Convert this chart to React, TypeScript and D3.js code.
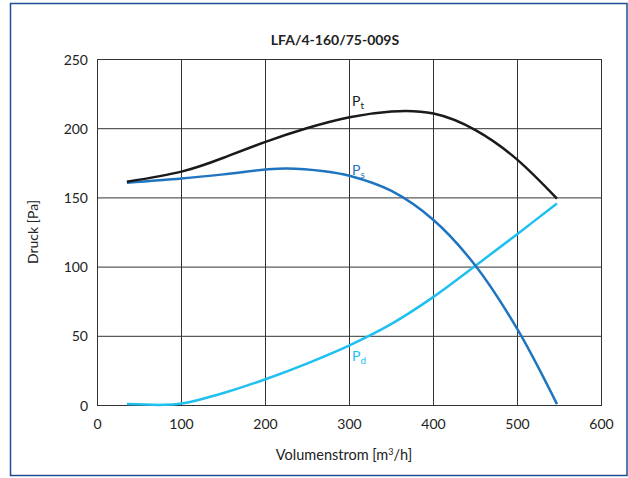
import React from "react";
import * as d3 from "d3";

const xTicks = [0, 100, 200, 300, 400, 500, 600];
const yTicks = [0, 50, 100, 150, 200, 250];

const flowPt = [35, 100, 150, 200, 250, 300, 350, 400, 450, 500, 547];
const valuesPt = [161.7, 169, 179, 190.5, 200.5, 208.3, 212.5, 211, 199, 177.5, 149.5];

const flowPs = [35, 100, 150, 200, 225, 270, 300, 350, 400, 450, 500, 547];
const valuesPs = [161, 164, 167, 170.5, 171.3, 169.3, 166, 155, 134, 101, 55, 1];

const flowPd = [35, 80, 100, 120, 150, 200, 250, 300, 350, 400, 450, 500, 547];
const valuesPd = [1, 0.5, 1.5, 4, 9, 19, 30.5, 43.5, 59, 78.5, 101, 124, 146];

const FONT = "Lato, 'Open Sans', sans-serif";

export default function App() {
  const W = 628, H = 478;
  const x = d3.scaleLinear().domain([0, 600]).range([97.5, 601.5]);
  const y = d3.scaleLinear().domain([0, 250]).range([405.5, 59.5]);
  const line = d3.line<[number, number]>().x(d => x(d[0])).y(d => y(d[1])).curve(d3.curveNatural);
  const lineCR = d3.line<[number, number]>().x(d => x(d[0])).y(d => y(d[1])).curve(d3.curveCatmullRom.alpha(0.5));
  const pt = flowPt.map((f, i) => [f, valuesPt[i]] as [number, number]);
  const ps = flowPs.map((f, i) => [f, valuesPs[i]] as [number, number]);
  const pd = flowPd.map((f, i) => [f, valuesPd[i]] as [number, number]);
  return (
    <svg width={W} height={H} style={{ position: "absolute", left: 0, top: 0, background: "#fff" }} fontFamily={FONT}>
      <rect x={10.5} y={3.5} width={616.5} height={472} fill="#fff" stroke="#1f4e96" strokeWidth={1.5} />
      <text x={335} y={45} textAnchor="middle" fontWeight="bold" fontSize={14} fill="#222">LFA/4-160/75-009S</text>
      {xTicks.map(t => (
        <line key={"gx" + t} x1={x(t)} x2={x(t)} y1={y(0)} y2={y(250)} stroke="#333" strokeWidth={1} />
      ))}
      {yTicks.map(t => (
        <line key={"gy" + t} x1={x(0)} x2={x(600)} y1={y(t)} y2={y(t)} stroke="#333" strokeWidth={1} />
      ))}
      <rect x={x(0)} y={y(250)} width={x(600) - x(0)} height={y(0) - y(250)} fill="none" stroke="#333" strokeWidth={1} />
      {xTicks.map(t => (
        <text key={"tx" + t} x={x(t)} y={429} textAnchor="middle" fontSize={14} fill="#222">{t}</text>
      ))}
      {yTicks.map(t => (
        <text key={"ty" + t} x={88} y={y(t) + 5} textAnchor="end" fontSize={14} fill="#222">{t}</text>
      ))}
      <path d={lineCR(pd) || ""} fill="none" stroke="#1ec0f0" strokeWidth={2.5} />
      <path d={lineCR(ps) || ""} fill="none" stroke="#1f74c0" strokeWidth={2.5} />
      <path d={line(pt) || ""} fill="none" stroke="#1a1a1a" strokeWidth={2.5} />
      <text x={352} y={106} fontSize={14} fill="#1a1a1a">P<tspan fontSize={10} dy={3}>t</tspan></text>
      <text x={352} y={175} fontSize={14} fill="#1f74c0">P<tspan fontSize={10} dy={3}>s</tspan></text>
      <text x={352} y={361} fontSize={14} fill="#1ec0f0">P<tspan fontSize={10} dy={3}>d</tspan></text>
      <text x={344} y={460} textAnchor="middle" fontSize={14.5} fill="#222">Volumenstrom [m<tspan fontSize={9} dy={-5}>3</tspan><tspan dy={5}>/h]</tspan></text>
      <text transform={`translate(38,232) rotate(-90)`} textAnchor="middle" fontSize={14} fill="#222">Druck [Pa]</text>
    </svg>
  );
}
